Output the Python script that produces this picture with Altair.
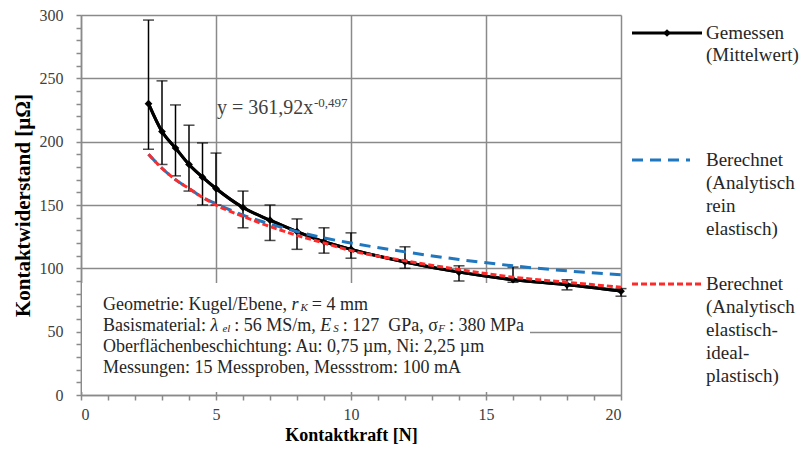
import altair as alt
import pandas as pd

# ---- data ----
force = [2.5, 3, 3.5, 4, 4.5, 5, 6, 7, 8, 9, 10, 12, 14, 16, 18, 20]
r_mean = [230, 208, 195, 182, 172, 163, 148, 138, 129, 121, 115, 105, 97, 91, 87, 82]
r_max = [296, 248, 229, 213, 199, 191, 161, 150, 139, 132, 128, 117, 102, 101, 91, 84]
r_min = [194, 182, 173, 161, 150, 150, 132, 122, 115, 112, 108, 100, 90, 89, 83, 78]
r_elastic = [190, 179, 170, 163, 156, 151, 142, 135, 129, 124, 120, 113, 107, 102, 98, 95]
r_plastic = [190, 179, 170, 163, 156, 150, 141, 133, 126, 120, 114, 106, 99, 93, 89, 85]

x_ticks = list(range(0, 21))
y_ticks = list(range(0, 301, 10))

FONT = "Liberation Serif"
GRID = "#8a8a8a"
TXT = "#262626"

df = pd.DataFrame({"F": force, "R": r_mean, "Rmax": r_max, "Rmin": r_min,
                   "Rel": r_elastic, "Rpl": r_plastic})

# pixel helpers (plot area: x 81..621, y 395..15)
def dx(px):
    return (px - 81) / 27.0

def dy(py):
    return (395 - py) * 300.0 / 380.0

xs = alt.Scale(domain=[0, 20], nice=False, zero=False)
ys = alt.Scale(domain=[0, 300], nice=False)

xaxis = alt.Axis(values=x_ticks, title="Kontaktkraft [N]", labelOverlap=False,
                 labelExpr="datum.value % 5 === 0 ? datum.label : ''",
                 gridOpacity={"condition": {"test": "datum.value % 5 === 0", "value": 1}, "value": 0},
                 tickSize=5, labelPadding=6, titlePadding=4, titleFontSize=18)
yaxis = alt.Axis(values=y_ticks, title="Kontaktwiderstand [µΩ]", labelOverlap=False,
                 labelExpr="datum.value % 50 === 0 ? datum.label : ''",
                 gridOpacity={"condition": {"test": "datum.value % 50 === 0", "value": 1}, "value": 0},
                 tickSize=5, labelPadding=13, titlePadding=6, titleFontSize=21)

def X(f):
    return alt.X(f, scale=xs, axis=xaxis)

def Y(f):
    return alt.Y(f, scale=ys, axis=yaxis)

base = alt.Chart(df)

line_meas = base.mark_line(color="black", strokeWidth=3, interpolate="monotone").encode(x=X("F:Q"), y=Y("R:Q"))

# text box behind the annotation
box = alt.Chart(pd.DataFrame({"x": [dx(82)], "x2": [dx(530)], "y": [dy(283)], "y2": [dy(392)]})).mark_rect(
    color="white").encode(x=X("x:Q"), x2="x2", y=Y("y:Q"), y2="y2")

err = base.mark_rule(color="black", strokeWidth=1.5).encode(x=X("F:Q"), y=Y("Rmin:Q"), y2="Rmax:Q")
cap_top = base.mark_tick(color="black", orient="horizontal", size=11, thickness=1.5).encode(x=X("F:Q"), y=Y("Rmax:Q"))
cap_bot = base.mark_tick(color="black", orient="horizontal", size=11, thickness=1.5).encode(x=X("F:Q"), y=Y("Rmin:Q"))
pts = base.mark_point(shape="diamond", filled=True, size=60, color="black", opacity=1).encode(x=X("F:Q"), y=Y("R:Q"))

line_el = base.mark_line(color="#1f77c0", strokeWidth=3, strokeDash=[11, 7], interpolate="monotone").encode(
    x=X("F:Q"), y=Y("Rel:Q"))
line_pl = base.mark_line(color="#ff2b2b", strokeWidth=3, strokeDash=[6, 3], interpolate="monotone").encode(
    x=X("F:Q"), y=Y("Rpl:Q"))

# equation annotation
eq = pd.DataFrame({"t": ["y = 361,92x"], "x": [dx(217)], "y": [dy(108)]})
eq_sup = pd.DataFrame({"t": ["-0,497"], "x": [dx(314)], "y": [dy(103)]})
eq_main = alt.Chart(eq).mark_text(font=FONT, fontSize=20, color="#404040", align="left", baseline="middle").encode(
    x=X("x:Q"), y=Y("y:Q"), text="t:N")
eq_exp = alt.Chart(eq_sup).mark_text(font=FONT, fontSize=13, color="#404040", align="left", baseline="middle").encode(
    x=X("x:Q"), y=Y("y:Q"), text="t:N")

# ---- info box text, laid out with Times-metric widths ----
W_REG = {" ": 250, "\u00a0": 250, ",": 250, ".": 250, ":": 278, "/": 278, "=": 564, "-": 333,
         "A": 722, "B": 667, "E": 611, "G": 722, "K": 722, "M": 889, "N": 722, "O": 722, "P": 556, "S": 556,
         "a": 444, "b": 500, "c": 444, "e": 444, "g": 500, "h": 500, "i": 278, "l": 278, "m": 778,
         "n": 500, "o": 500, "p": 500, "r": 333, "s": 389, "t": 278, "u": 500, "ä": 444, "µ": 500,
         "σ": 550, "λ": 550}
W_IT = {"r": 389, "K": 667, "E": 611, "S": 500, "F": 611, "e": 444, "l": 278, "λ": 550}

def width(t, size, italic):
    tab = W_IT if italic else W_REG
    return sum(tab.get(c, 500) for c in t) * size / 1000.0

MAIN, SUB = 18, 11
lines = [
    (305, [("Geometrie: Kugel/Ebene, ", "n"), ("r", "i"), ("K", "s"), ("= 4 mm", "n")]),
    (326, [("Basismaterial: ", "n"), ("λ", "i"), ("el", "s"), (": 56 MS/m, ", "n"), ("E", "i"), ("S", "s"),
           (": 127\u00a0 GPa, ", "n"), ("σ", "n"), ("F", "s"), (": 380 MPa", "n")]),
    (347, [("Oberflächenbeschichtung: Au: 0,75 µm, Ni: 2,25 µm", "n")]),
    (368, [("Messungen: 15 Messproben, Messstrom: 100 mA", "n")]),
]
rows = []
for py, parts in lines:
    cur = 103.0
    for t, kind in parts:
        if kind == "s":
            rows.append((t, cur, py + 3, SUB, "italic"))
            cur += width(t, SUB, True) + 4
        elif kind == "i":
            rows.append((t, cur, py, MAIN, "italic"))
            cur += width(t, MAIN, True) + 2
        else:
            rows.append((t, cur, py, MAIN, "normal"))
            cur += width(t, MAIN, False)
pdf = pd.DataFrame(rows, columns=["t", "px", "py", "s", "style"])
pdf["x"] = pdf["px"].map(dx)
pdf["y"] = pdf["py"].map(dy)

def text_layer(style):
    sub = pdf[pdf["style"] == style]
    return alt.Chart(sub).mark_text(font=FONT, fontStyle=style, color=TXT, align="left",
                                    baseline="middle").encode(
        x=X("x:Q"), y=Y("y:Q"), text="t:N",
        size=alt.Size("s:Q", scale=None, legend=None))

info_n = text_layer("normal")
info_i = text_layer("italic")

# legend
leg_text = [
    ("Gemessen", 33), ("(Mittelwert)", 55),
    ("Berechnet", 160), ("(Analytisch", 183), ("rein", 206), ("elastisch)", 229),
    ("Berechnet", 284), ("(Analytisch", 307), ("elastisch-", 330), ("ideal-", 353), ("plastisch)", 376),
]
ldf = pd.DataFrame(leg_text, columns=["t", "py"])
ldf["x"] = dx(706)
ldf["y"] = ldf["py"].map(dy)
leg_t = alt.Chart(ldf).mark_text(font=FONT, fontSize=19, color=TXT, align="left", baseline="middle").encode(
    x=X("x:Q"), y=Y("y:Q"), text="t:N")

def leg_rule(px0, px1, py, **kw):
    d = pd.DataFrame({"x": [dx(px0)], "x2": [dx(px1)], "y": [dy(py)]})
    return alt.Chart(d).mark_rule(**kw).encode(x=X("x:Q"), x2="x2", y=Y("y:Q"))

leg_black = leg_rule(632, 702, 33, color="black", strokeWidth=3)
leg_blue = leg_rule(632, 690, 160, color="#1f77c0", strokeWidth=3, strokeDash=[11, 7])
leg_red = leg_rule(632, 702, 284, color="#ff2b2b", strokeWidth=3, strokeDash=[6, 3])
leg_dia = alt.Chart(pd.DataFrame({"x": [dx(667)], "y": [dy(33)]})).mark_point(
    shape="diamond", filled=True, size=60, color="black", opacity=1).encode(x=X("x:Q"), y=Y("y:Q"))

chart = alt.layer(
    line_meas, box, err, cap_top, cap_bot, line_meas, pts, line_el, line_pl,
    eq_main, eq_exp, info_n, info_i, leg_t, leg_black, leg_blue, leg_red, leg_dia
).properties(
    width=540, height=380,
    padding={"left": 73, "top": 7, "right": 180, "bottom": 51},
    autosize=alt.AutoSizeParams(type="none"),
).configure_view(stroke=None).configure_axis(
    labelFont=FONT, labelFontSize=16, labelColor="#404040",
    titleFont=FONT, titleFontWeight="bold", titleColor="black",
    domainColor=GRID, domainWidth=1.5, tickColor=GRID, tickWidth=1.5,
    gridColor=GRID, gridWidth=1.5,
)

chart.save("out.html", embed_options={"renderer": "svg", "actions": False})
